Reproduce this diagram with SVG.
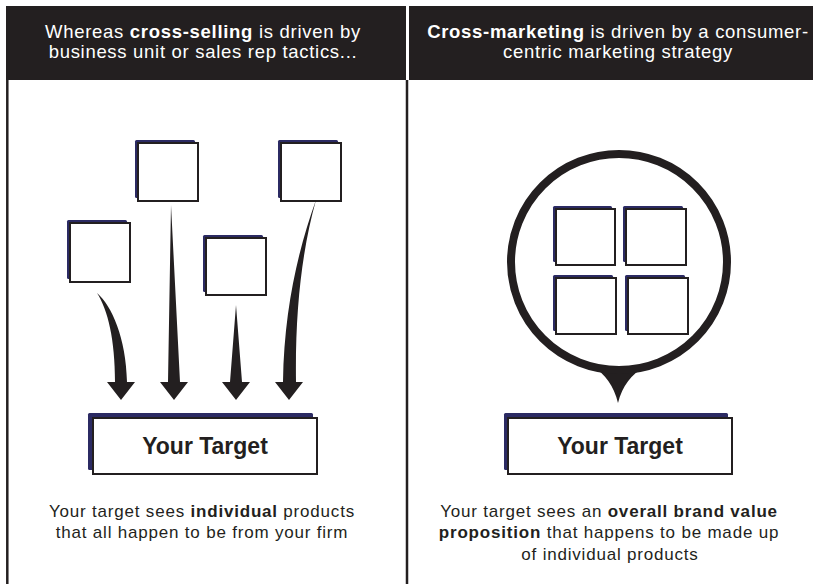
<svg xmlns="http://www.w3.org/2000/svg" width="813" height="584" viewBox="0 0 813 584">
<style>
.hdr{fill:#231f20}
.ht{font-family:"Liberation Sans",Arial,Helvetica,sans-serif;font-size:18.5px;fill:#ffffff;text-anchor:middle;letter-spacing:0.7px}
.bt{font-family:"Liberation Sans",Arial,Helvetica,sans-serif;font-size:17px;fill:#231f20;text-anchor:middle;letter-spacing:0.8px}
.tt{font-family:"Liberation Sans",Arial,Helvetica,sans-serif;font-size:23px;font-weight:bold;fill:#231f20;text-anchor:middle}
.b{font-weight:bold}
.sh{fill:#2b2a63}
.bx{fill:#ffffff;stroke:#231f20;stroke-width:2}
.ar{fill:#231f20}
.frame{stroke:#231f20;stroke-width:2.5;fill:none}
</style>
<rect width="813" height="584" fill="#ffffff"/>
<g id="frame">
<rect class="hdr" x="6" y="6" width="400" height="74"/>
<rect class="hdr" x="409" y="6" width="404" height="74"/>
<line class="frame" x1="7.3" y1="80" x2="7.3" y2="584"/>
<line class="frame" x1="407" y1="80" x2="407" y2="584"/>
</g>
<g id="header-left">
<text class="ht" x="203" y="38">Whereas <tspan class="b">cross-selling</tspan> is driven by</text>
<text class="ht" x="203" y="58">business unit or sales rep tactics...</text>
</g>
<g id="header-right">
<text class="ht" x="618" y="38"><tspan class="b">Cross-marketing</tspan> is driven by a consumer-</text>
<text class="ht" x="618" y="58">centric marketing strategy</text>
</g>
<g id="product-1"><rect class="sh" x="67" y="220" width="60" height="59" rx="1.5"/><rect class="bx" x="70" y="223" width="60" height="59"/></g>
<g id="product-2"><rect class="sh" x="135" y="140" width="60" height="58" rx="1.5"/><rect class="bx" x="138" y="143" width="60" height="58"/></g>
<g id="product-3"><rect class="sh" x="203" y="235" width="60" height="57" rx="1.5"/><rect class="bx" x="206" y="238" width="60" height="57"/></g>
<g id="product-4"><rect class="sh" x="278" y="140" width="60" height="58" rx="1.5"/><rect class="bx" x="281" y="143" width="60" height="58"/></g>
<g id="connectors">
<path class="ar" d="M97,293 C108,310 115,340 115,382 L107,382 L121,400 L135,382 L127,382 C126,338 112,306 97,293 Z"/>
<path class="ar" d="M171,205 L168,382 L160,382 L174,400 L188,382 L180,382 Z"/>
<path class="ar" d="M236,305 L230,382 L222,382 L236,400 L250,382 L242,382 Z"/>
<path class="ar" d="M316,200 C302,250 295,310 296,382 L303,382 L289,400 L275,382 L283,382 C284,310 298,250 316,200 Z"/>
<path class="ar" d="M592,366 Q612,378 618,403 Q624,378 646,366 Z"/>
</g>
<g id="target-left">
<rect class="sh" x="88" y="413" width="225" height="57" rx="1.5"/>
<rect class="bx" x="93" y="418" width="224" height="56"/>
<text class="tt" x="205" y="454">Your Target</text>
</g>
<g id="bubble">
<circle cx="619" cy="262" r="108" fill="#ffffff" stroke="#231f20" stroke-width="8"/>
</g>
<g id="product-5"><rect class="sh" x="553" y="206" width="59" height="56" rx="1.5"/><rect class="bx" x="556" y="209" width="59" height="56"/></g>
<g id="product-6"><rect class="sh" x="623" y="206" width="60" height="56" rx="1.5"/><rect class="bx" x="626" y="209" width="60" height="56"/></g>
<g id="product-7"><rect class="sh" x="553" y="275" width="60" height="56" rx="1.5"/><rect class="bx" x="556" y="278" width="60" height="56"/></g>
<g id="product-8"><rect class="sh" x="625" y="275" width="60" height="56" rx="1.5"/><rect class="bx" x="628" y="278" width="60" height="56"/></g>
<g id="target-right">
<rect class="sh" x="504" y="413" width="224" height="57" rx="1.5"/>
<rect class="bx" x="508" y="418" width="224" height="56"/>
<text class="tt" x="620" y="454">Your Target</text>
</g>
<g id="caption-left">
<text class="bt" x="202" y="517">Your target sees <tspan class="b">individual</tspan> products</text>
<text class="bt" x="202" y="538">that all happen to be from your firm</text>
</g>
<g id="caption-right">
<text class="bt" x="609" y="517">Your target sees an <tspan class="b">overall brand value</tspan></text>
<text class="bt" x="609" y="538"><tspan class="b">proposition</tspan> that happens to be made up</text>
<text class="bt" x="610" y="560">of individual products</text>
</g>
</svg>
